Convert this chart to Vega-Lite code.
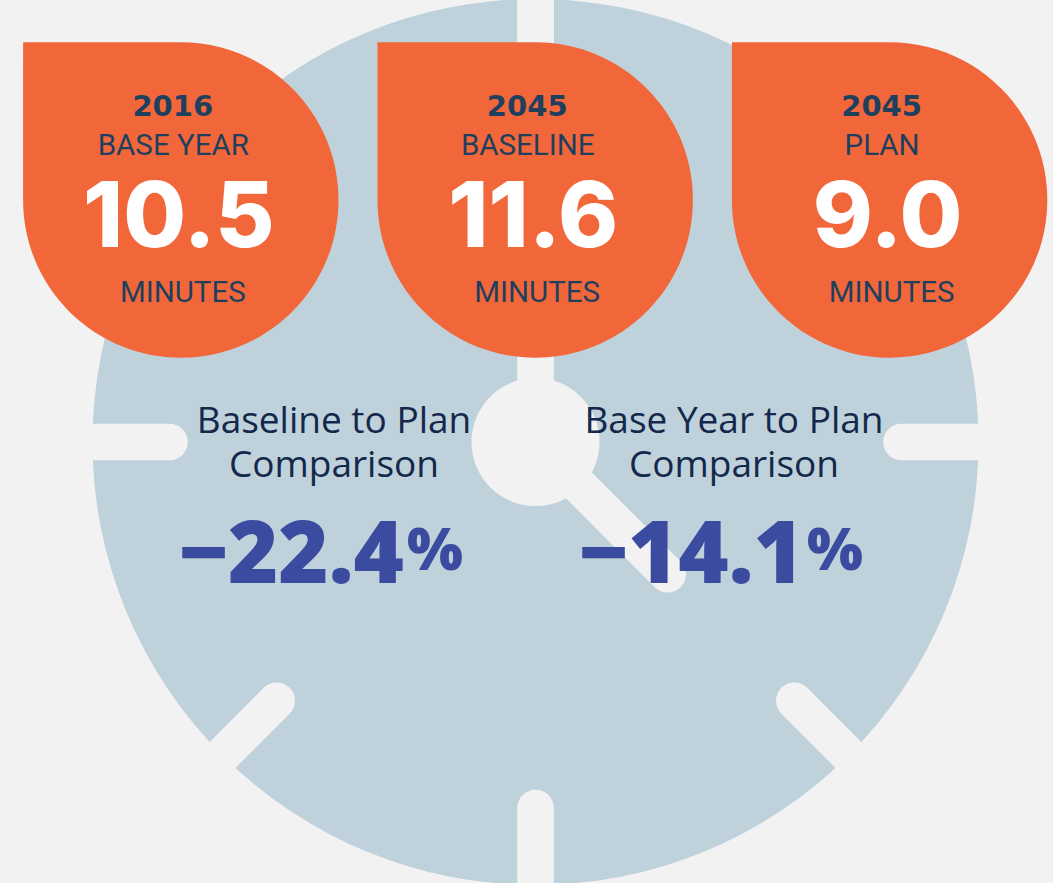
{
  "$schema": "https://vega.github.io/schema/vega-lite/v6.json",
  "width": 1035,
  "height": 882,
  "padding": {"left": 18, "top": 1, "right": 0, "bottom": 0},
  "autosize": {"type": "none"},
  "background": "#f2f2f2",
  "config": {"view": {"stroke": null}},
  "datasets": {
    "travel": [
      {"year": "2016", "scenario": "BASE YEAR", "minutes": 10.5},
      {"year": "2045", "scenario": "BASELINE", "minutes": 11.6},
      {"year": "2045", "scenario": "PLAN", "minutes": 9.0}
    ],
    "change": [
      {"comparison": "Baseline to Plan", "label": ["Baseline to Plan", "Comparison"], "pct": -22.4},
      {"comparison": "Base Year to Plan", "label": ["Base Year to Plan", "Comparison"], "pct": -14.1}
    ],
    "ticks": [
      {"hour": 0}, {"hour": 1.5}, {"hour": 3}, {"hour": 4.5},
      {"hour": 6}, {"hour": 7.5}, {"hour": 9}, {"hour": 10.5}
    ],
    "hands": [
      {"hand": "minute", "hour": 0},
      {"hand": "hour", "hour": 4.5}
    ]
  },
  "layer": [
    {
      "data": {"values": [{"part": "clock face"}]},
      "mark": {"type": "point", "shape": "circle", "size": 784996, "filled": true, "color": "#bfd1db", "opacity": 1, "strokeWidth": 0},
      "encoding": {}
    },
    {
      "data": {"name": "ticks"},
      "mark": {"type": "point", "shape": "M-0.183,-4.7L-0.183,-3.66A0.183,0.183,0,0,0,0.183,-3.66L0.183,-4.7Z", "size": 40000, "filled": true, "color": "#f2f2f2", "opacity": 1, "strokeWidth": 0},
      "encoding": {
        "angle": {"field": "hour", "type": "quantitative", "scale": {"domain": [0, 12], "range": [0, 360]}}
      }
    },
    {
      "data": {"name": "hands"},
      "mark": {"type": "point", "size": 40000, "filled": true, "color": "#f2f2f2", "opacity": 1, "strokeWidth": 0},
      "encoding": {
        "angle": {"field": "hour", "type": "quantitative", "scale": {"domain": [0, 12], "range": [0, 360]}},
        "shape": {"field": "hand", "type": "nominal", "legend": null,
          "scale": {"domain": ["minute", "hour"],
            "range": ["M-0.183,0.3L-0.183,-4.7L0.183,-4.7L0.183,0.3Z",
                      "M-0.183,0L-0.183,-1.87A0.183,0.183,0,0,1,0.183,-1.87L0.183,0Z"]}}
      }
    },
    {
      "data": {"values": [{"part": "hub"}]},
      "mark": {"type": "point", "shape": "circle", "size": 16384, "filled": true, "color": "#f2f2f2", "opacity": 1, "strokeWidth": 0},
      "encoding": {}
    },
    {
      "data": {"name": "travel"},
      "mark": {"type": "point", "shape": "M-1,-1L0,-1A1,1,0,1,1,-1,0Z", "size": 99477, "filled": true, "color": "#f2673a", "opacity": 1, "strokeWidth": 0, "yOffset": -242},
      "encoding": {
        "x": {"field": "scenario", "type": "nominal", "axis": null,
          "scale": {"type": "point", "domain": ["BASE YEAR", "BASELINE", "PLAN"], "range": [162.8, 871.6], "padding": 0}}
      }
    },
    {
      "data": {"name": "travel"},
      "mark": {"type": "text", "font": "DejaVu Sans", "fontWeight": "bold", "fontSize": 29, "color": "#1e3f5e", "baseline": "alphabetic", "dx": -8, "dy": -325.7},
      "encoding": {
        "x": {"field": "scenario", "type": "nominal", "axis": null,
          "scale": {"type": "point", "domain": ["BASE YEAR", "BASELINE", "PLAN"], "range": [162.8, 871.6], "padding": 0}},
        "text": {"field": "year"}
      }
    },
    {
      "data": {"name": "travel"},
      "mark": {"type": "text", "font": "Roboto", "fontSize": 29.5, "color": "#1e3f5e", "baseline": "alphabetic", "dx": -7.5, "dy": -287},
      "encoding": {
        "x": {"field": "scenario", "type": "nominal", "axis": null,
          "scale": {"type": "point", "domain": ["BASE YEAR", "BASELINE", "PLAN"], "range": [162.8, 871.6], "padding": 0}},
        "text": {"field": "scenario"}
      }
    },
    {
      "data": {"name": "travel"},
      "mark": {"type": "text", "font": "Inter", "fontWeight": 800, "fontSize": 91, "color": "#ffffff", "baseline": "alphabetic", "dx": -2, "dy": -195},
      "encoding": {
        "x": {"field": "scenario", "type": "nominal", "axis": null,
          "scale": {"type": "point", "domain": ["BASE YEAR", "BASELINE", "PLAN"], "range": [162.8, 871.6], "padding": 0}},
        "text": {"field": "minutes", "type": "quantitative", "format": ".1f"}
      }
    },
    {
      "data": {"name": "travel"},
      "mark": {"type": "text", "font": "Roboto", "fontSize": 29.5, "color": "#1e3f5e", "baseline": "alphabetic", "dx": 2, "dy": -140.3},
      "encoding": {
        "x": {"field": "scenario", "type": "nominal", "axis": null,
          "scale": {"type": "point", "domain": ["BASE YEAR", "BASELINE", "PLAN"], "range": [162.8, 871.6], "padding": 0}},
        "text": {"value": "MINUTES"}
      }
    },
    {
      "data": {"name": "change"},
      "mark": {"type": "text", "font": "Open Sans", "fontSize": 37, "lineHeight": 44, "color": "#13284a", "baseline": "alphabetic", "dy": -8.7},
      "encoding": {
        "x": {"field": "comparison", "type": "nominal", "axis": null,
          "scale": {"type": "point", "domain": ["Baseline to Plan", "Base Year to Plan"], "range": [316, 716], "padding": 0}},
        "text": {"field": "label"}
      }
    },
    {
      "data": {"name": "change"},
      "mark": {"type": "text", "font": "Open Sans", "fontWeight": 800, "fontSize": 86, "color": "#3b4ba0", "baseline": "alphabetic", "align": "right", "dx": 70, "dy": 141.3},
      "encoding": {
        "x": {"field": "comparison", "type": "nominal", "axis": null,
          "scale": {"type": "point", "domain": ["Baseline to Plan", "Base Year to Plan"], "range": [316, 716], "padding": 0}},
        "text": {"field": "pct", "type": "quantitative", "format": ".1f"}
      }
    },
    {
      "data": {"name": "change"},
      "mark": {"type": "text", "font": "Open Sans", "fontWeight": 800, "fontSize": 59, "color": "#3b4ba0", "baseline": "alphabetic", "align": "left", "dx": 73, "dy": 128},
      "encoding": {
        "x": {"field": "comparison", "type": "nominal", "axis": null,
          "scale": {"type": "point", "domain": ["Baseline to Plan", "Base Year to Plan"], "range": [316, 716], "padding": 0}},
        "text": {"value": "%"}
      }
    }
  ],
  "resolve": {"scale": {"x": "independent", "angle": "independent", "shape": "independent"}}
}
